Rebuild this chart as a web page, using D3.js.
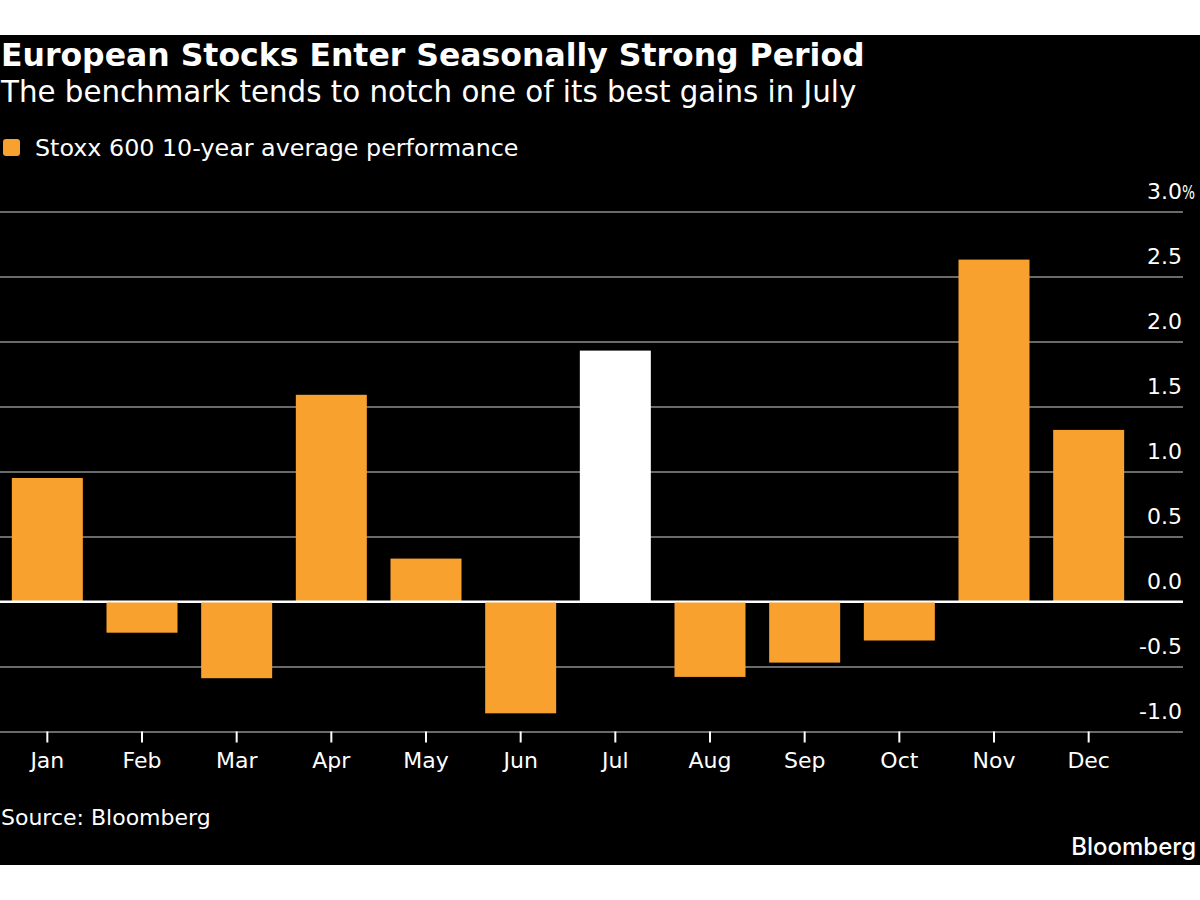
<!DOCTYPE html>
<html lang="en">
<head>
  <meta charset="UTF-8">
  <title>European Stocks Enter Seasonally Strong Period</title>
  <style>
    body { margin: 0; background: #fff; }
    text { font-family: "DejaVu Sans", Verdana, sans-serif; }
  </style>
</head>
<body>
  <script src="https://cdn.jsdelivr.net/npm/d3@7"></script>
  <script>
    let months = ["Jan", "Feb", "Mar", "Apr", "May", "Jun", "Jul", "Aug", "Sep", "Oct", "Nov", "Dec"];
    let perf = [0.95, -0.24, -0.59, 1.59, 0.33, -0.86, 1.93, -0.58, -0.47, -0.30, 2.63, 1.32];
    let yTicks = [-1.0, -0.5, 0.0, 0.5, 1.0, 1.5, 2.0, 2.5, 3.0];
    let highlight = "Jul";

    let width = 1200,
      height = 900;
    let orange = "#f9a12e";

    let svg = d3.select("body")
      .append("svg")
      .attr("width", width)
      .attr("height", height);

    // black panel
    svg.append("rect")
      .attr("x", 0).attr("y", 35)
      .attr("width", width).attr("height", 830)
      .attr("fill", "#000");

    // titles
    svg.append("text")
      .attr("x", 1).attr("y", 66)
      .attr("fill", "#fff")
      .attr("font-size", 31.5)
      .attr("font-weight", "bold")
      .text("European Stocks Enter Seasonally Strong Period");
    svg.append("text")
      .attr("x", 1).attr("y", 102)
      .attr("fill", "#fff")
      .attr("font-size", 29.3)
      .text("The benchmark tends to notch one of its best gains in July");

    // legend
    svg.append("rect")
      .attr("x", 3).attr("y", 139)
      .attr("width", 17).attr("height", 17)
      .attr("rx", 3)
      .attr("fill", orange);
    svg.append("text")
      .attr("x", 35).attr("y", 156)
      .attr("fill", "#fff")
      .attr("font-size", 23.8)
      .text("Stoxx 600 10-year average performance");

    let x = d3.scaleBand()
      .domain(months)
      .range([0, 1136])
      .paddingInner(0.25)
      .paddingOuter(0.125);

    let y = d3.scaleLinear()
      .domain([-1, 3])
      .range([731.5, 211.5]);

    // gridlines + labels
    let yAxis = svg.append("g")
      .call(d3.axisRight(y)
        .tickValues(yTicks)
        .tickSize(1183)
        .tickFormat(d => d3.format(".1f")(d).replace("\u2212", "-")));
    yAxis.select(".domain").remove();
    yAxis.selectAll(".tick line")
      .attr("stroke", d => d === 0 ? "#fff" : "#6a6a6a")
      .attr("stroke-width", 2);
    yAxis.selectAll(".tick text")
      .attr("x", 1182)
      .attr("dy", -13)
      .attr("text-anchor", "end")
      .attr("fill", "#fff")
      .attr("font-size", 22)
      .attr("font-family", "DejaVu Sans, sans-serif");
    // % sign on top label, kept narrow so it stays inside the frame
    yAxis.selectAll(".tick")
      .filter(d => d === 3)
      .append("text")
      .attr("x", 1182)
      .attr("dy", -13)
      .attr("fill", "#fff")
      .attr("font-size", 20)
      .attr("textLength", 13)
      .attr("lengthAdjust", "spacingAndGlyphs")
      .text("%");

    // bars
    svg.selectAll(".bar")
      .data(perf)
      .enter()
      .append("rect")
      .attr("class", "bar")
      .attr("x", (d, i) => x(months[i]))
      .attr("y", d => y(Math.max(0, d)))
      .attr("width", x.bandwidth())
      .attr("height", d => Math.abs(y(d) - y(0)))
      .attr("fill", (d, i) => months[i] === highlight ? "#fff" : orange);

    // zero line on top
    svg.append("line")
      .attr("x1", 0).attr("x2", 1183)
      .attr("y1", y(0)).attr("y2", y(0))
      .attr("stroke", "#fff")
      .attr("stroke-width", 2);

    // x axis
    let xAxis = svg.append("g")
      .attr("transform", "translate(0," + y(-1) + ")")
      .call(d3.axisBottom(x).tickSize(11).tickPadding(10));
    xAxis.select(".domain").remove();
    xAxis.selectAll(".tick line")
      .attr("stroke", "#fff")
      .attr("stroke-width", 2);
    xAxis.selectAll(".tick text")
      .attr("fill", "#fff")
      .attr("font-size", 22)
      .attr("font-family", "DejaVu Sans, sans-serif");

    // footer
    svg.append("text")
      .attr("x", 1).attr("y", 825)
      .attr("fill", "#fff")
      .attr("font-size", 22)
      .text("Source: Bloomberg");
    svg.append("text")
      .attr("x", 1196).attr("y", 855)
      .attr("text-anchor", "end")
      .attr("fill", "#fff")
      .attr("font-size", 24)
      .attr("font-weight", 500)
      .style("font-family", "Inter, sans-serif")
      .text("Bloomberg");
  </script>
</body>
</html>
